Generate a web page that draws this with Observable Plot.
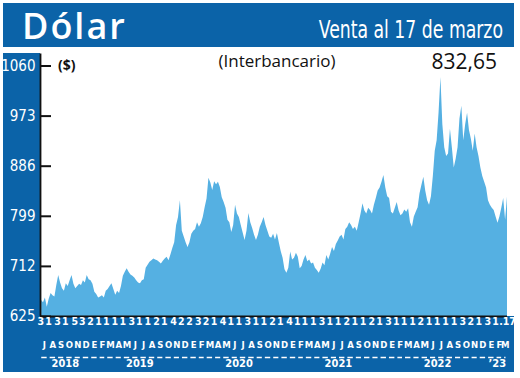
<!DOCTYPE html>
<html><head><meta charset="utf-8">
<script src="https://cdn.jsdelivr.net/npm/d3@7"></script>
<script src="https://cdn.jsdelivr.net/npm/@observablehq/plot@0.6"></script>
<style>
html,body{margin:0;padding:0;background:#fff;}
#wrap{position:relative;width:520px;height:378px;overflow:hidden;background:#fff;}
.bg{position:absolute;background:#0b63a8;}
#chart{position:absolute;left:0;top:0;}
#over{position:absolute;left:0;top:0;}
</style></head>
<body>
<div id="wrap">
  <div class="bg" style="left:3px;top:3px;width:511px;height:44px"></div>
  <div class="bg" style="left:3px;top:53px;width:37px;height:263px"></div>
  <div class="bg" style="left:3px;top:316px;width:511px;height:56px"></div>
  <div id="chart"></div>
  <svg id="over" width="520" height="378">
    <text x="22" y="39" fill="#fff" font-family="Open Sans" font-weight="600" font-size="36" letter-spacing="2">Dólar</text>
    <text transform="translate(503,38) scale(0.8,1)" x="0" y="0" fill="#fff" text-anchor="end" font-family="Liberation Sans Narrow, DejaVu Sans Condensed" font-size="24">Venta al 17 de marzo</text>
    <text x="58" y="70" fill="#111" font-family="Open Sans" font-weight="700" font-size="14">($)</text>
    <text x="277" y="67" fill="#111" text-anchor="middle" font-family="Open Sans" font-size="17">(Interbancario)</text>
    <text x="497" y="69" fill="#111" text-anchor="end" font-family="Open Sans" font-size="21">832,65</text>
  </svg>
</div>
<script>
// Y-axis tick labels
const yTicks = [625, 712, 799, 886, 973, 1060];

// Weekly (Friday) values of the dollar
const v2018 = [653, 649, 657, 641, 655, 665, 661, 659, 679, 696, 683, 673, 669, 682, 677, 687, 696, 681, 673, 677, 681, 679, 687, 683, 696, 689];
const v2019 = [687, 681, 667, 663, 657, 659, 661, 657, 669, 672, 677, 682, 672, 662, 669, 665, 677, 695, 702, 708, 702, 697, 695, 692, 687, 683, 682, 687, 689, 709, 714, 719, 722, 725, 723, 722, 719, 716, 721, 725, 728, 722, 732, 743, 753, 783, 797, 826, 773, 763, 753, 745];
const v2020 = [753, 768, 773, 776, 788, 780, 786, 797, 814, 829, 865, 857, 844, 859, 854, 858, 849, 831, 823, 813, 792, 788, 771, 783, 818, 803, 797, 783, 770, 757, 773, 804, 788, 778, 766, 757, 766, 780, 788, 797, 783, 773, 763, 761, 768, 758, 769, 753, 738, 726, 706, 700];
const v2021 = [709, 737, 723, 726, 735, 728, 708, 712, 723, 731, 720, 723, 716, 718, 709, 705, 700, 707, 718, 713, 731, 723, 733, 745, 738, 750, 756, 763, 766, 758, 776, 780, 788, 783, 776, 780, 773, 788, 803, 821, 808, 803, 813, 809, 803, 818, 830, 843, 848, 858, 870, 848, 833];
const v2022 = [830, 806, 803, 813, 823, 808, 800, 803, 810, 806, 812, 788, 780, 798, 806, 814, 838, 853, 867, 843, 826, 818, 833, 868, 912, 930, 978, 1040, 958, 918, 903, 907, 950, 918, 883, 898, 918, 968, 990, 930, 958, 978, 948, 933, 912, 942, 918, 903, 883, 868, 858, 848];
const v2023 = [826, 818, 813, 809, 798, 787, 798, 813, 830, 792, 832.65];

// First day shown for each month (Jul 2018 .. Mar 2023)
const dayLabels = ["3","1","3","1","5","3",
  "2","1","1","1","1","3","1","1","2","1","4","2",
  "2","3","2","1","4","1","1","3","1","1","2","1",
  "4","1","1","1","3","1","1","2","1","1","2","1",
  "3","1","1","1","2","1","1","1","1","3","2","1",
  "3","1",".17"];
const monthInitials = ["E","F","M","A","M","J","J","A","S","O","N","D"];
const yearLabels = ["2018","2019","2020","2021","2022","’23"];

const start = new Date(Date.UTC(2018, 6, 2));
const end = new Date(Date.UTC(2023, 2, 17));

const values = [...v2018, ...v2019, ...v2020, ...v2021, ...v2022, ...v2023];
const fridays = d3.utcFriday.range(new Date(Date.UTC(2018, 6, 6)), d3.utcDay.offset(end, 1));
const data = fridays.map((d, i) => ({date: d, value: values[i]}));

const months = d3.utcMonth.range(new Date(Date.UTC(2018, 6, 1)), new Date(Date.UTC(2023, 3, 1))).map((m, i) => {
  const y = m.getUTCFullYear(), mo = m.getUTCMonth();
  const label = dayLabels[i];
  const nxt = d3.utcMonth.offset(m, 1);
  const e = nxt > end ? end : nxt;
  return {
    start: m, end: e,
    mid: new Date((+m + +e) / 2),
    letter: monthInitials[mo],
    label,
    labelDate: new Date(Date.UTC(y, mo, parseInt(label.replace(".", ""))))
  };
});

const years = yearLabels.map((label, i) => {
  const y = 2018 + i;
  const s = new Date(Math.max(+start, Date.UTC(y, 0, 1)));
  const e = new Date(Math.min(+end, Date.UTC(y + 1, 0, 1)));
  return {label, mid: new Date((+s + +e) / 2)};
});

const narrow = "Liberation Sans Narrow, DejaVu Sans Condensed, sans-serif";

const chart = Plot.plot({
  width: 520,
  height: 378,
  marginLeft: 40,
  marginRight: 13,
  marginTop: 65.5,
  marginBottom: 62,
  style: {background: "transparent", overflow: "visible"},
  x: {type: "utc", domain: [start, end], axis: null},
  y: {domain: [yTicks[0], yTicks[yTicks.length - 1]], axis: null},
  marks: [
    Plot.areaY(data, {x: "date", y1: yTicks[0], y2: "value", fill: "#55b0e2", curve: "linear"}),
    Plot.ruleY([yTicks[0]], {stroke: "#111", strokeWidth: 2}),
    Plot.ruleX([start], {stroke: "#111", strokeWidth: 1.8, insetTop: -12}),
    Plot.axisY(yTicks, {anchor: "left", label: null, tickSize: 11, dx: 11, tickPadding: 5, stroke: "#111", strokeWidth: 2, fill: "#fff", fontSize: 15, fontFamily: narrow, tickFormat: d => String(d)}),
    Plot.text(months, {x: "labelDate", text: "label", frameAnchor: "bottom", dy: 8, fill: "#fff", fontSize: 10.5, fontWeight: "bold", fontFamily: narrow}),
    Plot.text(months, {x: "mid", text: "letter", frameAnchor: "bottom", dy: 31, fill: "#fff", fontSize: 9.5, fontWeight: "bold", fontFamily: narrow}),
    Plot.ruleY(months, {x1: "start", x2: "end", y: yTicks[0], dy: 41, stroke: "#fff", strokeWidth: 1.5, insetLeft: 1.5, insetRight: 1.5}),
    Plot.text(years, {x: "mid", text: "label", frameAnchor: "bottom", dy: 50, fill: "#fff", fontSize: 11, fontWeight: "bold", fontFamily: narrow})
  ]
});
document.getElementById("chart").appendChild(chart);
</script>
</body></html>
